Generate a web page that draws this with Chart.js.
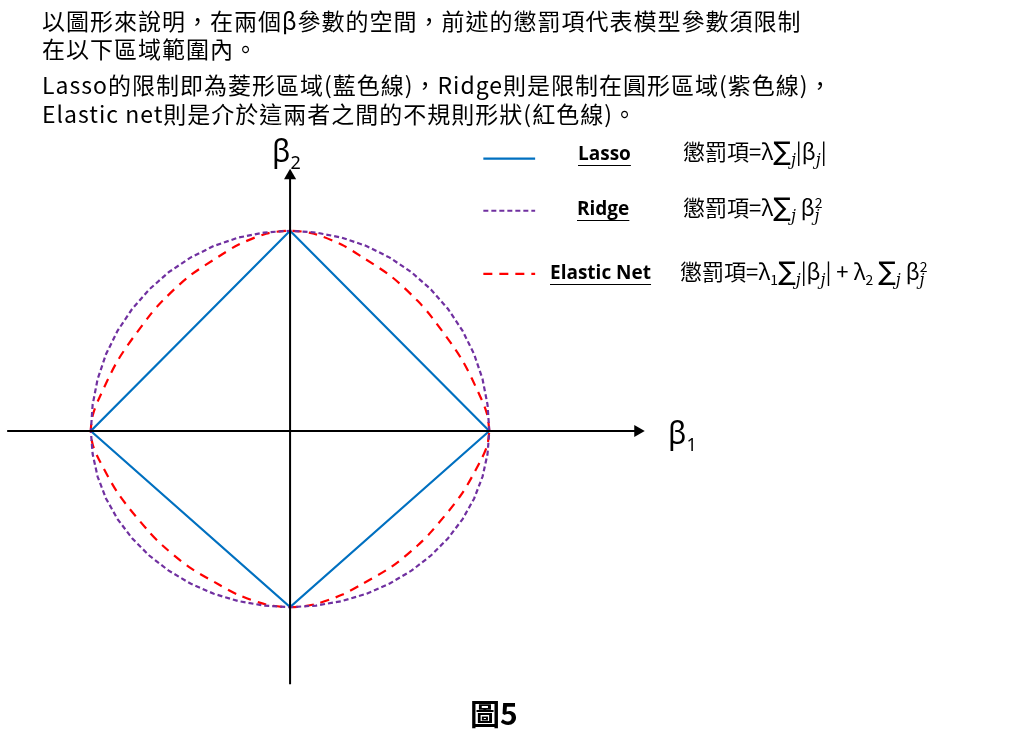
<!DOCTYPE html>
<html><head><meta charset="utf-8">
<script src="https://cdn.jsdelivr.net/npm/chart.js@4"></script>
<style>
body{margin:0;width:1024px;height:753px;background:#fff;position:relative;overflow:hidden;font-family:"Noto Sans CJK TC","Noto Sans",sans-serif;}
#c{position:absolute;left:0;top:0;}
.t{position:absolute;white-space:nowrap;color:#000;}
.title{left:42px;font-size:23px;letter-spacing:1px;line-height:28px;}
.lab{font-family:"Open Sans","Noto Sans",sans-serif;font-weight:bold;font-size:19px;text-decoration:underline;text-underline-offset:5px;}
.f{font-size:22px;font-family:"Noto Sans CJK TC",sans-serif;}
.f i{font-family:"DejaVu Serif",serif;font-size:16px;}
.f .s{font-size:26px;font-family:"DejaVu Sans",sans-serif;}
</style></head><body>
<canvas id="c" width="1024" height="753"></canvas>
<div class="t title" style="top:6px">以圖形來說明，在兩個β參數的空間，前述的懲罰項代表模型參數須限制</div>
<div class="t title" style="top:34px">在以下區域範圍內。</div>
<div class="t title" style="top:70px">Lasso的限制即為菱形區域(藍色線)，Ridge則是限制在圓形區域(紫色線)，</div>
<div class="t title" style="top:99px">Elastic net則是介於這兩者之間的不規則形狀(紅色線)。</div>
<div class="t" style="left:272px;top:130px;font-size:30px;font-family:'Noto Sans',sans-serif">β<sub style="font-size:18px">2</sub></div>
<div class="t" style="left:668px;top:412px;font-size:30px;font-family:'Noto Sans',sans-serif">β<sub style="font-size:18px">1</sub></div>
<div class="t" style="left:470px;top:690px;font-size:30px;font-weight:bold;font-family:'Noto Sans CJK TC',sans-serif">圖5</div>
<div class="t lab" style="left:578px;top:140px">Lasso</div>
<div class="t lab" style="left:577px;top:195px">Ridge</div>
<div class="t lab" style="left:550px;top:259px">Elastic Net</div>
<div class="t f" style="left:683px;top:134px">懲罰項=λ<span class="s">∑</span><sub><i>j</i></sub>|β<sub><i>j</i></sub>|</div>
<div class="t f" style="left:683px;top:190px">懲罰項=λ<span class="s">∑</span><sub><i>j</i></sub> β<sup style="font-size:14px">2</sup><sub style="margin-left:-8px"><i>j</i></sub></div>
<div class="t f" style="left:680px;top:254px">懲罰項=λ<sub style="font-size:14px">1</sub><span class="s">∑</span><sub><i>j</i></sub>|β<sub><i>j</i></sub>| + λ<sub style="font-size:14px">2</sub> <span class="s">∑</span><sub><i>j</i></sub> β<sup style="font-size:14px">2</sup><sub style="margin-left:-8px"><i>j</i></sub></div>
<script>
// Shape vertices in units of radius (lower half appears squashed to 0.88)
const lassoX = [1, 0, -1, 0, 1];
const lassoY = [0, 1, 0, -0.88, 0];
const ridgeQX = [1, 0.991, 0.966, 0.924, 0.866, 0.793, 0.707, 0.609, 0.5, 0.383, 0.259, 0.131, 0];
const ridgeQY = [0, 0.131, 0.259, 0.383, 0.5, 0.609, 0.707, 0.793, 0.866, 0.924, 0.966, 0.991, 1];
const enetQX = [1, 0.99, 0.96, 0.86, 0.71, 0.64, 0.51, 0.36, 0.26, 0.12, 0];
const enetQY = [0, 0.08, 0.16, 0.36, 0.57, 0.65, 0.77, 0.87, 0.93, 0.985, 1];
const lowerScale = 0.88;
const xAxisRange = [-1.42, 1.745];
const yAxisRange = [-1.265, 1.275];

function ring(qx, qy){
  const pts=[];
  for(let i=0;i<qx.length;i++) pts.push({x:qx[i],y:qy[i]});
  for(let i=qx.length-2;i>=0;i--) pts.push({x:-qx[i],y:qy[i]});
  for(let i=1;i<qx.length;i++) pts.push({x:-qx[i],y:-qy[i]*lowerScale});
  for(let i=qx.length-2;i>=0;i--) pts.push({x:qx[i],y:-qy[i]*lowerScale});
  return pts;
}
const line = (pts,color,dash,w,t)=>({data:pts,showLine:true,borderColor:color,borderWidth:w,borderDash:dash,pointRadius:0,tension:t||0,fill:false});
new Chart(document.getElementById('c'),{
  type:'scatter',
  data:{datasets:[
    {data:[{x:xAxisRange[0],y:0},{x:xAxisRange[1],y:0}],showLine:true,borderColor:'#000',borderWidth:2,
     pointRadius:[0,7],pointStyle:'triangle',rotation:90,backgroundColor:'#000',pointBorderWidth:0},
    {data:[{x:0,y:yAxisRange[0]},{x:0,y:yAxisRange[1]}],showLine:true,borderColor:'#000',borderWidth:2,
     pointRadius:[0,7],pointStyle:'triangle',rotation:0,backgroundColor:'#000',pointBorderWidth:0},
    line(ring(ridgeQX,ridgeQY),'#7030a0',[5,3],2.2),
    line(ring(enetQX,enetQY),'#ff0000',[9,7],2.2,0.3),
    line(lassoX.map((x,i)=>({x,y:lassoY[i]})),'#0070c0',[],2.2),
    line([{x:0.97,y:1.36},{x:1.23,y:1.36}],'#0070c0',[],2.2),
    line([{x:0.97,y:1.1},{x:1.23,y:1.1}],'#7030a0',[5,3],2.2),
    line([{x:0.97,y:0.785},{x:1.23,y:0.785}],'#ff0000',[9,7],2.2)
  ]},
  options:{responsive:false,animation:false,events:[],
    layout:{padding:0},
    plugins:{legend:{display:false},tooltip:{enabled:false}},
    scales:{x:{type:'linear',min:-287/202,max:737/202,display:false},
            y:{type:'linear',min:-321/204,max:432/204,display:false}}}
});
</script>
</body></html>
